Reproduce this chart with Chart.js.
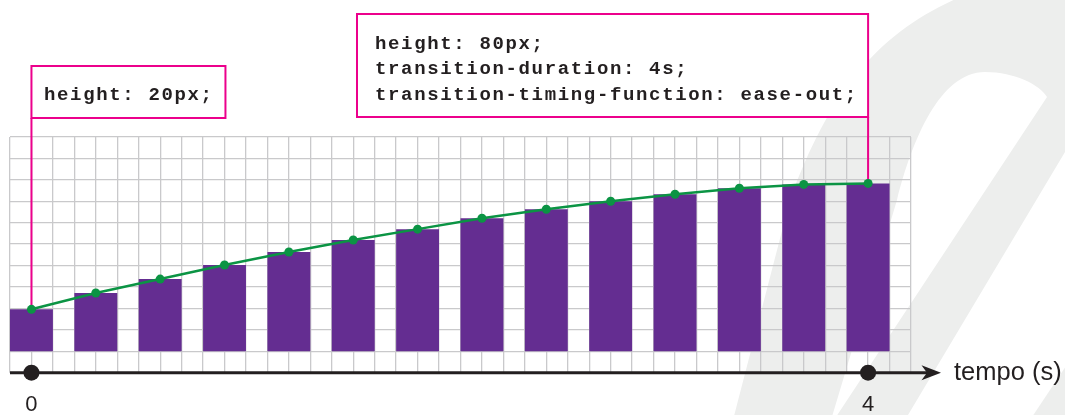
<!DOCTYPE html>
<html>
<head>
<meta charset="utf-8">
<title>ease-out</title>
<script src="https://cdn.jsdelivr.net/npm/chart.js@4/dist/chart.umd.min.js"></script>
<style>
  html, body { margin: 0; padding: 0; background: #fff; }
  #wrap { width: 1065px; height: 415px; }
</style>
</head>
<body>
<div id="wrap"><canvas id="chart" width="1065" height="415"></canvas></div>
<script>
// frames of the transition, one bar per step
const steps = [0, 1, 2, 3, 4, 5, 6, 7, 8, 9, 10, 11, 12, 13];
const heights = [20, 27.8, 34.4, 41.1, 47.3, 53.0, 58.2, 63.4, 67.7, 71.5, 74.8, 77.7, 79.5, 80];
const timeTicks = [0, 13];
const timeLabels = ["0", "4"];
const axisTitle = "tempo (s)";
const startNote = ["height: 20px;"];
const endNote = ["height: 80px;", "transition-duration: 4s;", "transition-timing-function: ease-out;"];

const PURPLE = "#642d91";
const GREEN = "#0b9444";
const MAGENTA = "#ec008c";
const INK = "#231f20";
const GRIDC = "#c9c9cb";
const MONO = "bold 19px 'Liberation Mono', monospace";

const yMin = -10.2, yMax = 102.1;

const bars = steps.map((s, i) => ({ x: s, y: heights[i] }));
const marks = timeTicks.map(s => ({ x: s, y: yMin }));

function spaced(ctx, text, x, y, gap) {
  for (const ch of text) {
    ctx.fillText(ch, x, y);
    x += ctx.measureText(ch).width + gap;
  }
}

// big pale shape behind everything
const backdrop = {
  id: "backdrop",
  beforeDraw(chart) {
    const ctx = chart.ctx;
    ctx.save();
    ctx.fillStyle = "#edeeed";
    ctx.beginPath();
    ctx.moveTo(733, 420);
    ctx.lineTo(790, 200);
    ctx.bezierCurveTo(830, 90, 880, 30, 965, -5);
    ctx.lineTo(1130, -5);
    ctx.lineTo(1120, 60);
    ctx.lineTo(905, 420);
    ctx.closePath();
    ctx.moveTo(831, 420);
    ctx.lineTo(897, 200);
    ctx.bezierCurveTo(912, 140, 940, 72, 985, 72);
    ctx.bezierCurveTo(1015, 72, 1040, 85, 1047, 97);
    ctx.lineTo(834, 420);
    ctx.closePath();
    ctx.fill("evenodd");
    ctx.beginPath();
    ctx.moveTo(1030, 420);
    ctx.lineTo(1140, 255);
    ctx.lineTo(1140, 420);
    ctx.closePath();
    ctx.fill();
    ctx.restore();
  }
};

// time axis arrow, notes and their leader lines
const overlay = {
  id: "overlay",
  beforeDatasetsDraw(chart) {
    const ctx = chart.ctx;
    const xs = chart.scales.x, ys = chart.scales.y;
    const area = chart.chartArea;
    const ay = ys.getPixelForValue(yMin);

    ctx.save();
    ctx.strokeStyle = INK;
    ctx.lineWidth = 3;
    ctx.beginPath();
    ctx.moveTo(area.left, ay);
    ctx.lineTo(928, ay);
    ctx.stroke();
    ctx.fillStyle = INK;
    ctx.beginPath();
    ctx.moveTo(941, ay);
    ctx.lineTo(921.5, ay - 7.5);
    ctx.lineTo(927, ay);
    ctx.lineTo(921.5, ay + 7.5);
    ctx.closePath();
    ctx.fill();

    ctx.font = "25.5px 'Liberation Sans', Arial, sans-serif";
    ctx.textBaseline = "middle";
    ctx.textAlign = "left";
    ctx.fillText(axisTitle, 954, ay);

    // notes
    const x0 = xs.getPixelForValue(steps[0]);
    const y0 = ys.getPixelForValue(heights[0]);
    const xn = xs.getPixelForValue(steps[steps.length - 1]);
    const yn = ys.getPixelForValue(heights[heights.length - 1]);

    ctx.strokeStyle = MAGENTA;
    ctx.lineWidth = 2;
    ctx.fillStyle = "#fff";
    ctx.fillRect(x0, 66, 194, 52);
    ctx.strokeRect(x0, 66, 194, 52);
    ctx.beginPath();
    ctx.moveTo(x0, 118);
    ctx.lineTo(x0, y0);
    ctx.stroke();

    ctx.fillRect(357, 14, xn - 357, 103);
    ctx.strokeRect(357, 14, xn - 357, 103);
    ctx.beginPath();
    ctx.moveTo(xn, 117);
    ctx.lineTo(xn, yn);
    ctx.stroke();

    ctx.fillStyle = INK;
    ctx.font = MONO;
    ctx.textBaseline = "alphabetic";
    startNote.forEach((t, i) => spaced(ctx, t, 44, 100 + i * 25.5, 1.65));
    endNote.forEach((t, i) => spaced(ctx, t, 375, 48.5 + i * 25.5, 1.65));
    ctx.restore();
  }
};

new Chart(document.getElementById("chart"), {
  type: "bar",
  data: {
    datasets: [
      {
        type: "line",
        data: bars,
        borderColor: GREEN,
        borderWidth: 2.5,
        backgroundColor: GREEN,
        pointRadius: 4.5,
        pointBorderWidth: 0,
        pointBackgroundColor: GREEN,
        tension: 0,
        order: 0
      },
      {
        type: "scatter",
        data: marks,
        pointRadius: 8,
        pointBorderWidth: 0,
        pointBackgroundColor: INK,
        clip: false,
        order: 1
      },
      {
        type: "bar",
        data: bars,
        backgroundColor: PURPLE,
        borderWidth: 0,
        barPercentage: 2 / 3,
        categoryPercentage: 1,
        order: 2
      }
    ]
  },
  options: {
    responsive: false,
    animation: false,
    events: [],
    layout: { padding: { left: 10, right: 154, top: 137, bottom: 0 } },
    plugins: { legend: { display: false }, tooltip: { enabled: false } },
    scales: {
      x: {
        type: "linear",
        position: "bottom",
        min: -1 / 3,
        max: 41 / 3,
        offset: false,
        grid: { display: false, offset: false },
        border: { display: false },
        afterBuildTicks: s => { s.ticks = timeTicks.map(v => ({ value: v })); },
        afterFit: s => { s.paddingLeft = 0; s.paddingRight = 0; s.height = 42.3; },
        ticks: {
          autoSkip: false,
          maxRotation: 0,
          padding: 13,
          color: INK,
          font: { family: "'Liberation Sans', Arial, sans-serif", size: 22, lineHeight: 1 },
          callback: (v, i) => timeLabels[i]
        }
      },
      y: { type: "linear", min: yMin, max: yMax, display: false },
      gx: {
        type: "linear",
        position: "top",
        min: 0,
        max: 42,
        offset: false,
        ticks: { display: false, stepSize: 1 },
        grid: { color: GRIDC, lineWidth: 1.3, drawTicks: false, offset: false },
        border: { display: false }
      },
      gy: {
        type: "linear",
        position: "left",
        min: 0,
        max: 11,
        ticks: { display: false, stepSize: 1 },
        grid: { color: GRIDC, lineWidth: 1.3, drawTicks: false },
        border: { display: false }
      }
    }
  },
  plugins: [backdrop, overlay]
});
</script>
</body>
</html>
